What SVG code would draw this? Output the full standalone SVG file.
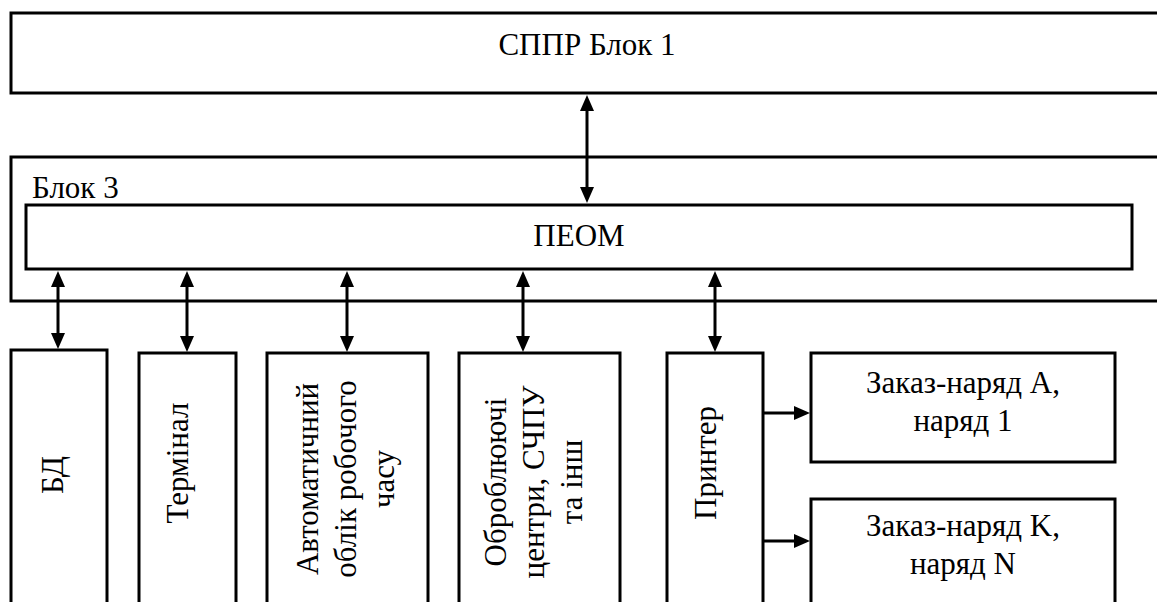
<svg xmlns="http://www.w3.org/2000/svg" width="1157" height="602" viewBox="0 0 1157 602">
  <style>
    .box { fill: #ffffff; stroke: #000000; stroke-width: 3; }
    .frame { fill: none; stroke: #000000; stroke-width: 3; }
    .lbl { font-size: 31px; fill: #000000; }
    .mid { text-anchor: middle; }
    .link { fill: none; stroke: #000000; stroke-width: 3; marker-end: url(#head); }
    .both { marker-start: url(#head); }
  </style>
  <defs>
    <marker id="head" viewBox="0 0 16 14" refX="8" refY="7" markerWidth="16" markerHeight="14" markerUnits="userSpaceOnUse" orient="auto-start-reverse">
      <path d="M0,0 L16,7 L0,14 z" fill="#000000"/>
    </marker>
  </defs>
  <rect width="1157" height="602" fill="#ffffff"/>

  <g font-family="'Liberation Serif', 'Times New Roman', Tinos, 'DejaVu Serif', serif">
  <!-- decision support system, block 1 -->
  <g id="sppr">
    <rect class="frame" x="11" y="13" width="1160" height="80"/>
    <text class="lbl mid" x="587" y="55">СППР Блок 1</text>
  </g>

  <!-- block 3 container -->
  <g id="block3">
    <rect class="frame" x="11" y="157" width="1160" height="144"/>
    <text class="lbl" x="32" y="198">Блок 3</text>
  </g>

  <!-- personal computer -->
  <g id="peom">
    <rect class="box" x="26" y="205" width="1106" height="64"/>
    <text class="lbl mid" x="579" y="246">ПЕОМ</text>
  </g>

  <g id="bd">
    <rect class="box" x="11" y="350" width="96" height="280"/>
    <text class="lbl mid" transform="translate(63,475) rotate(-90)">БД</text>
  </g>

  <g id="terminal">
    <rect class="box" x="139" y="353" width="97" height="280"/>
    <text class="lbl mid" transform="translate(188,463) rotate(-90)">Термінал</text>
  </g>

  <g id="timekeeping">
    <rect class="box" x="267" y="353" width="161" height="280"/>
    <text class="lbl mid" transform="translate(318,479) rotate(-90)">Автоматичний</text>
    <text class="lbl mid" transform="translate(356,479) rotate(-90)">облік робочого</text>
    <text class="lbl mid" transform="translate(394,479) rotate(-90)">часу</text>
  </g>

  <g id="machining">
    <rect class="box" x="459" y="353" width="161" height="280"/>
    <text class="lbl mid" transform="translate(506,482) rotate(-90)">Оброблюючі</text>
    <text class="lbl mid" transform="translate(544,482) rotate(-90)">центри, СЧПУ</text>
    <text class="lbl mid" transform="translate(582,482) rotate(-90)">та інш</text>
  </g>

  <g id="printer">
    <rect class="box" x="667" y="353" width="96" height="280"/>
    <text class="lbl mid" transform="translate(716,463) rotate(-90)">Принтер</text>
  </g>

  <g id="order-a">
    <rect class="box" x="811" y="353" width="304" height="109"/>
    <text class="lbl mid" x="963" y="393">Заказ-наряд A,</text>
    <text class="lbl mid" x="963" y="431">наряд 1</text>
  </g>

  <g id="order-k">
    <rect class="box" x="811" y="499" width="304" height="130"/>
    <text class="lbl mid" x="963" y="536">Заказ-наряд K,</text>
    <text class="lbl mid" x="963" y="574">наряд N</text>
  </g>
  </g>

  <!-- connectors -->
  <g id="connectors">
    <line class="link both" x1="587" y1="103" x2="587" y2="195"/>
    <line class="link both" x1="58" y1="279" x2="58" y2="341"/>
    <line class="link both" x1="187" y1="279" x2="187" y2="344"/>
    <line class="link both" x1="347" y1="279" x2="347" y2="344"/>
    <line class="link both" x1="523" y1="279" x2="523" y2="344"/>
    <line class="link both" x1="715" y1="279" x2="715" y2="344"/>
    <line class="link" x1="764" y1="413" x2="802" y2="413"/>
    <line class="link" x1="764" y1="541" x2="802" y2="541"/>
  </g>
</svg>
